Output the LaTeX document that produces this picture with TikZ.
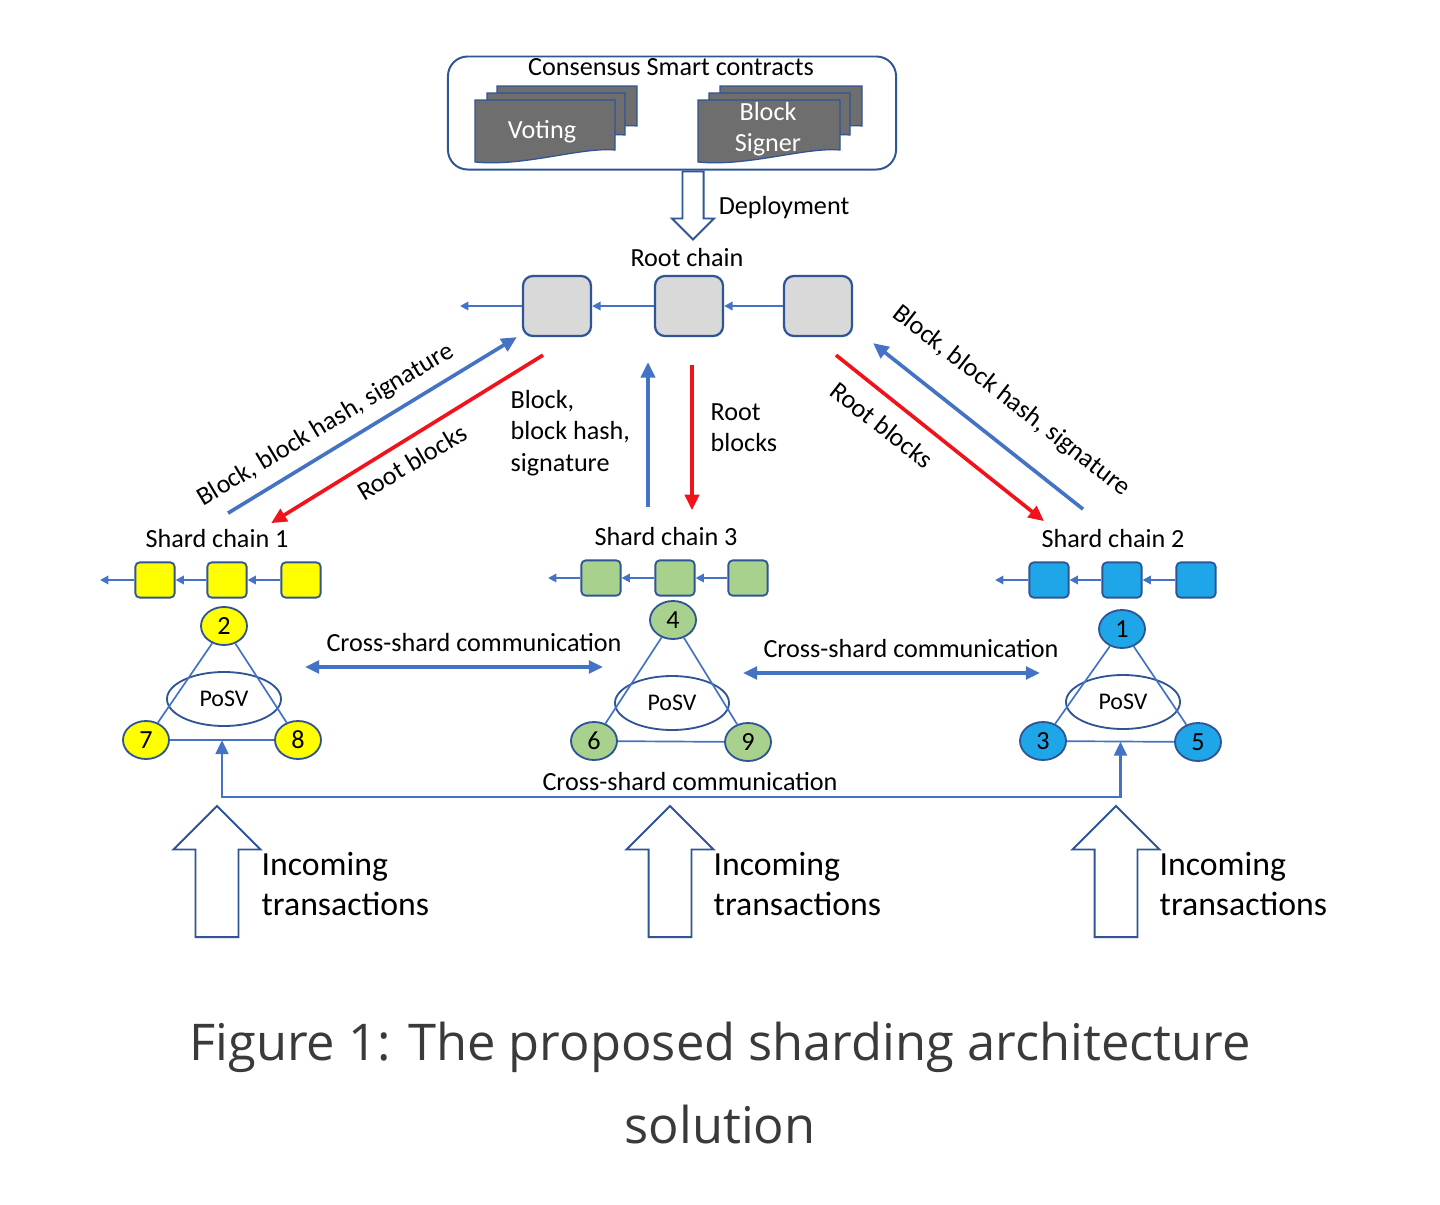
\documentclass[tikz,border=0pt]{standalone}
\usepackage{fontspec}
\setmainfont{Carlito}
\newfontfamily\capfont{Open Sans}
\usetikzlibrary{arrows.meta,positioning,shapes.geometric,shapes.arrows,calc}
\definecolor{ChainBlue}{HTML}{4472C4}
\definecolor{EdgeBlue}{HTML}{2F5597}
\definecolor{RootRed}{HTML}{F2121B}
\definecolor{RootGray}{HTML}{D9D9D9}
\definecolor{DocGray}{HTML}{6E6E6E}
\definecolor{ShardYellow}{HTML}{FFFF00}
\definecolor{ShardGreen}{HTML}{A9D18E}
\definecolor{ShardCyan}{HTML}{1FA6E8}
\definecolor{CaptionGray}{HTML}{3A3A3A}

% one page of a contract stack: x, y, width, height (picture units)
\newcommand{\contractdoc}[4]{%
  \filldraw[fill=DocGray,draw=EdgeBlue,line width=0.9pt]
    (#1,#2) -- (#1+#3,#2) -- (#1+#3,#2+#4-12)
    .. controls (#1+0.75*#3,#2+#4-15) and (#1+0.35*#3,#2+#4+5) .. (#1,#2+#4) -- cycle;}

\begin{document}
\begin{tikzpicture}[
    x=0.025cm, y=-0.025cm,
    lbl/.style={font=\fontsize{18.6}{22.3}\selectfont,inner sep=1pt},
    biglbl/.style={font=\fontsize{24}{28.4}\selectfont,inner sep=1pt,align=left,anchor=west},
    rootblk/.style={draw=EdgeBlue,fill=RootGray,rounded corners=7pt,line width=1.6pt,minimum width=1.7cm,minimum height=1.5cm},
    blk/.style={draw=EdgeBlue,rounded corners=3pt,line width=1.3pt,minimum width=0.98cm,minimum height=0.88cm},
    vnode/.style={ellipse,draw=EdgeBlue,line width=1.3pt,minimum width=1.15cm,minimum height=0.95cm,inner sep=0pt,font=\fontsize{18.6}{20}\selectfont},
    posv/.style={ellipse,draw=EdgeBlue,line width=1.3pt,minimum width=2.85cm,minimum height=1.35cm,font=\fontsize{17}{20}\selectfont},
    tri/.style={ChainBlue,line width=1.2pt},
    link/.style={ChainBlue,line width=1.4pt,-{Triangle[length=6pt,width=6pt]}},
    upmsg/.style={ChainBlue,line width=2.6pt,-{Triangle[length=11pt,width=10pt]}},
    downmsg/.style={RootRed,line width=2.6pt,-{Triangle[length=11pt,width=10pt]}},
    cross/.style={ChainBlue,line width=2.4pt,{Triangle[length=10pt,width=9pt]}-{Triangle[length=10pt,width=9pt]}},
    hollow/.style={single arrow,draw=EdgeBlue,fill=white,line width=1.4pt,inner ysep=0pt},
    txarrow/.style={hollow,shape border rotate=90,anchor=tail,minimum height=3.275cm,inner xsep=0.5125cm,single arrow head extend=0.55cm}
  ]
  \useasboundingbox[fill=white] (0,0) rectangle (1440,1204);

  % consensus smart contracts
  \node[draw=EdgeBlue,line width=1.4pt,rounded corners=14pt,minimum width=11.2cm,minimum height=2.825cm] (csc) at (672,113) {};
  \node[lbl] (csclab) at (671,67) {Consensus Smart contracts};
  \contractdoc{497}{86}{140}{52}
  \contractdoc{487}{93}{138}{54}
  \contractdoc{475}{100}{140}{62}
  \contractdoc{720}{86}{142}{52}
  \contractdoc{709}{93}{141}{54}
  \contractdoc{698}{100}{142}{62}
  \node[lbl,text=white] (voting) at (542,132) {Voting};
  \node[lbl,text=white,align=center] (signer) at (768,129) {Block\\Signer};

  \node[hollow,shape border rotate=270,anchor=tail,minimum height=1.7cm,inner xsep=0.24cm,
        single arrow head extend=0.26cm] (deploy) at ([xshift=15]csc.south) {};
  \node[lbl] (deploylab) at (784,208) {Deployment};

  % root chain
  \node[lbl] (rootlab) at (687,258) {Root chain};
  \node[rootblk] (r1) at (557,306) {};
  \node[rootblk] (r2) at (689,306) {};
  \node[rootblk] (r3) at (818,306) {};
  \coordinate (r0) at (460,306);
  \draw[link] (r3) -- (r2);
  \draw[link] (r2) -- (r1);
  \draw[link] (r1) -- (r0);

  % shard chain 1
  \node[lbl] (s1lab) at (217,539) {Shard chain 1};
  \node[blk,fill=ShardYellow] (a1) at (155,580) {};
  \node[blk,fill=ShardYellow] (a2) at (227,580) {};
  \node[blk,fill=ShardYellow] (a3) at (301,580) {};
  \coordinate (a0) at (100,580);
  \draw[link] (a3) -- (a2);
  \draw[link] (a2) -- (a1);
  \draw[link] (a1) -- (a0);
  \node[posv] (p1) at (224,699) {PoSV};
  \node[vnode,fill=ShardYellow] (n2) at (224,626) {2};
  \node[vnode,fill=ShardYellow] (n7) at (146,740) {7};
  \node[vnode,fill=ShardYellow] (n8) at (298,740) {8};
  \draw[tri] (n2) -- (n7) (n2) -- (n8) (n7) -- (n8);

  % shard chain 3
  \node[lbl] (s3lab) at (666,537) {Shard chain 3};
  \node[blk,fill=ShardGreen] (c1) at (601,578) {};
  \node[blk,fill=ShardGreen] (c2) at (675,578) {};
  \node[blk,fill=ShardGreen] (c3) at (748,578) {};
  \coordinate (c0) at (548,578);
  \draw[link] (c3) -- (c2);
  \draw[link] (c2) -- (c1);
  \draw[link] (c1) -- (c0);
  \node[posv] (p3) at (672,703) {PoSV};
  \node[vnode,fill=ShardGreen] (n4) at (673,620) {4};
  \node[vnode,fill=ShardGreen] (n6) at (594,741) {6};
  \node[vnode,fill=ShardGreen] (n9) at (748,742) {9};
  \draw[tri] (n4) -- (n6) (n4) -- (n9) (n6) -- (n9);

  % shard chain 2
  \node[lbl] (s2lab) at (1113,539) {Shard chain 2};
  \node[blk,fill=ShardCyan] (b1) at (1049,580) {};
  \node[blk,fill=ShardCyan] (b2) at (1122,580) {};
  \node[blk,fill=ShardCyan] (b3) at (1196,580) {};
  \coordinate (b0) at (995,580);
  \draw[link] (b3) -- (b2);
  \draw[link] (b2) -- (b1);
  \draw[link] (b1) -- (b0);
  \node[posv] (p2) at (1123,702) {PoSV};
  \node[vnode,fill=ShardCyan] (n1) at (1122,629) {1};
  \node[vnode,fill=ShardCyan] (n3) at (1043,741) {3};
  \node[vnode,fill=ShardCyan] (n5) at (1198,742) {5};
  \draw[tri] (n1) -- (n3) (n1) -- (n5) (n3) -- (n5);

  % shard <-> root messages
  \draw[upmsg] ([shift={(11,-15)}]s1lab.north) -- ([shift={(-5,0)}]r1.south west);
  \draw[downmsg] ([shift={(-14,18)}]r1.south) -- ([shift={(-19,-5)}]s1lab.north east);
  \node[lbl,rotate=31] (up1lab) at (326,425) {Block, block hash, signature};
  \node[lbl,rotate=31] (dn1lab) at (412,462) {Root blocks};

  \draw[upmsg] ([shift={(-18,-19)}]s3lab.north) -- ([shift={(-41,25)}]r2.south);
  \draw[downmsg] ([shift={(3,28)}]r2.south) -- ([shift={(26,-16)}]s3lab.north);
  \node[lbl,align=left,anchor=west] (up3lab) at (509,433) {Block,\\block hash,\\signature};
  \node[lbl,align=left,anchor=west] (dn3lab) at (709,428) {Root\\blocks};

  \draw[downmsg] ([shift={(18,18)}]r3.south) -- ([shift={(-69,-7)}]s2lab.north);
  \draw[upmsg] ([shift={(-30,-19)}]s2lab.north) -- ([shift={(20,6)}]r3.south east);
  \node[lbl,rotate=-38] (dn2lab) at (882,425) {Root blocks};
  \node[lbl,rotate=-38] (up2lab) at (1011,401) {Block, block hash, signature};

  % cross-shard communication
  \coordinate (x1) at (305,667);
  \coordinate (x3a) at (603,667);
  \coordinate (x3b) at (743,673);
  \coordinate (x2) at (1040,673);
  \draw[cross] (x1) -- (x3a);
  \draw[cross] (x3b) -- (x2);
  \node[lbl] (cross13) at (474,643) {Cross-shard communication};
  \node[lbl] (cross32) at (911,649) {Cross-shard communication};

  \coordinate (bus1) at ($(n7)!0.5!(n8)$);
  \coordinate (bus2) at ($(n3)!0.5!(n5)$);
  \draw[cross,line width=2pt] (bus1) -- ++(0,57) -| (bus2);
  \node[lbl] (cross12) at (690,782) {Cross-shard communication};

  % incoming transactions
  \node[txarrow] (in1) at (217,938) {};
  \node[txarrow] (in3) at (670,938) {};
  \node[txarrow] (in2) at (1116,938) {};
  \node[biglbl] (in1lab) at (260,884) {Incoming\\transactions};
  \node[biglbl] (in3lab) at (712,884) {Incoming\\transactions};
  \node[biglbl] (in2lab) at (1158,884) {Incoming\\transactions};

  % caption
  \node[font=\capfont\fontsize{36}{59.5}\selectfont,text=CaptionGray,align=center] (caption) at (720,1083)
    {Figure 1: The proposed sharding architecture\\solution};
\end{tikzpicture}
\end{document}
